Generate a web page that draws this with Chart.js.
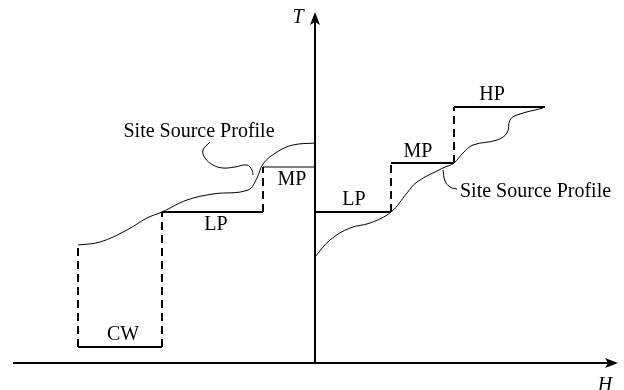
<!DOCTYPE html>
<html>
<head>
<meta charset="utf-8">
<script src="https://cdn.jsdelivr.net/npm/chart.js@4.4.1/dist/chart.umd.min.js"></script>
<style>
  html, body { margin: 0; padding: 0; background: #fff; }
  #wrap { width: 624px; height: 390px; }
</style>
</head>
<body>
<div id="wrap"><canvas id="profileChart"></canvas></div>
<script>
// H (enthalpy) to the left of the T axis is the sink side, to the right the source side
const sinkStepH = [-23.7, -15.3, -5.2, 0];
const sinkStepT = [1.6, 15.1, 19.6];        // CW, LP, MP
const sinkStepNames = ['CW', 'LP', 'MP'];
const sinkCurveTop = 11.8;

const sourceStepH = [0, 7.6, 13.9, 23.0];
const sourceStepT = [15.1, 20.0, 25.6];     // LP, MP, HP
const sourceStepNames = ['LP', 'MP', 'HP'];

const sinkCurve = [
  [-23.7, 11.8], [-21.5, 12.1], [-18.8, 13.3], [-16.8, 14.5], [-15.3, 15.1],
  [-12.8, 16.3], [-10.2, 16.9], [-6.7, 17.3], [-5.8, 18.5], [-5.2, 19.9],
  [-3.8, 21.1], [-2.2, 21.8], [0, 22.0]
];
const sourceCurve = [
  [0, 10.6], [1.5, 12.3], [3.5, 13.5], [5.5, 14.0], [7.6, 15.1],
  [9.2, 17.0], [10.2, 18.1], [12.8, 19.5], [13.9, 20.0], [14.8, 21.0],
  [15.8, 21.8], [18.2, 22.3], [19.2, 23.0], [19.5, 24.3], [20.2, 24.8], [22.8, 25.5]
];
const sinkLeader = [[-10.5, 22.1], [-11.2, 21.3], [-11.0, 20.5], [-10.2, 19.8], [-9.2, 19.5], [-8.0, 19.6], [-6.8, 19.8], [-6.3, 19.3], [-6.2, 18.8]];
const sourceLeader = [[12.8, 19.3], [13.0, 18.2], [13.5, 17.6], [14.2, 17.4]];

const profileLabel = 'Site Source Profile';
const axisNames = ['H', 'T'];

const pts = arr => arr.map(p => ({ x: p[0], y: p[1] }));

const solid = (data, width) => ({
  data: data, borderColor: '#000', borderWidth: width, pointRadius: 0,
  showLine: true, fill: false, tension: 0
});
const dashed = data => Object.assign(solid(data, 2), { borderDash: [8, 5] });
const curve = data => Object.assign(solid(pts(data), 1), { tension: 0.4 });

const datasets = [];
// sink steps
datasets.push(solid([{ x: sinkStepH[0], y: sinkStepT[0] }, { x: sinkStepH[1], y: sinkStepT[0] }], 2));
datasets.push(solid([{ x: sinkStepH[1], y: sinkStepT[1] }, { x: sinkStepH[2], y: sinkStepT[1] }], 2));
datasets.push(solid([{ x: sinkStepH[2], y: sinkStepT[2] }, { x: sinkStepH[3], y: sinkStepT[2] }], 1));
datasets.push(dashed([{ x: sinkStepH[0], y: sinkStepT[0] }, { x: sinkStepH[0], y: sinkCurveTop }]));
datasets.push(dashed([{ x: sinkStepH[1], y: sinkStepT[0] }, { x: sinkStepH[1], y: sinkStepT[1] }]));
datasets.push(dashed([{ x: sinkStepH[2], y: sinkStepT[1] }, { x: sinkStepH[2], y: sinkStepT[2] }]));
// source steps
for (let i = 0; i < 3; i++) {
  datasets.push(solid([{ x: sourceStepH[i], y: sourceStepT[i] }, { x: sourceStepH[i + 1], y: sourceStepT[i] }], 2));
  if (i > 0) datasets.push(dashed([{ x: sourceStepH[i], y: sourceStepT[i - 1] }, { x: sourceStepH[i], y: sourceStepT[i] }]));
}
datasets.push(curve(sinkCurve));
datasets.push(curve(sourceCurve));
datasets.push(curve(sinkLeader));
datasets.push(curve(sourceLeader));
// axes
datasets.push(solid([{ x: -30.2, y: 0 }, { x: 30.0, y: 0 }], 2));
datasets.push(solid([{ x: 0, y: 0 }, { x: 0, y: 34.6 }], 2));

const textItems = [
  { t: sinkStepNames[0], x: -19.2, y: 2.8 },
  { t: sinkStepNames[1], x: -9.9, y: 13.8 },
  { t: sinkStepNames[2], x: -2.3, y: 18.3 },
  { t: sourceStepNames[0], x: 3.9, y: 16.3 },
  { t: sourceStepNames[1], x: 10.3, y: 21.1 },
  { t: sourceStepNames[2], x: 17.7, y: 26.8 },
  { t: profileLabel, x: -11.6, y: 23.1 },
  { t: profileLabel, x: 14.5, y: 17.1, align: 'left' }
];

const decor = {
  id: 'decor',
  afterDatasetsDraw(chart) {
    const c = chart.ctx, xs = chart.scales.x, ys = chart.scales.y;
    const px = v => xs.getPixelForValue(v), py = v => ys.getPixelForValue(v);
    c.save();
    c.fillStyle = '#000';
    // arrowheads
    const ax = px(30.3), ay = py(0);
    c.beginPath();
    c.moveTo(ax, ay); c.lineTo(ax - 13, ay - 5); c.lineTo(ax - 10, ay); c.lineTo(ax - 13, ay + 5);
    c.closePath(); c.fill();
    const tx = px(0), ty = py(35.1);
    c.beginPath();
    c.moveTo(tx, ty); c.lineTo(tx - 5, ty + 13); c.lineTo(tx, ty + 10); c.lineTo(tx + 5, ty + 13);
    c.closePath(); c.fill();
    // labels
    c.font = '20px "Liberation Serif", "DejaVu Serif", serif';
    c.textBaseline = 'middle';
    textItems.forEach(it => {
      c.textAlign = it.align || 'center';
      c.fillText(it.t, px(it.x), py(it.y));
    });
    c.font = 'italic 20px "Liberation Serif", "DejaVu Serif", serif';
    c.textAlign = 'center';
    c.fillText(axisNames[1], px(-1.7), py(34.5));
    c.fillText(axisNames[0], px(29.0), py(-2.3));
    c.restore();
  }
};

new Chart(document.getElementById('profileChart'), {
  type: 'scatter',
  data: { datasets: datasets },
  options: {
    responsive: true,
    maintainAspectRatio: false,
    animation: false,
    layout: { padding: 0 },
    plugins: { legend: { display: false }, tooltip: { enabled: false } },
    scales: {
      x: { type: 'linear', display: false, min: -31.5, max: 30.9 },
      y: { type: 'linear', display: false, min: -2.7, max: 36.3 }
    }
  },
  plugins: [decor]
});
</script>
</body>
</html>
